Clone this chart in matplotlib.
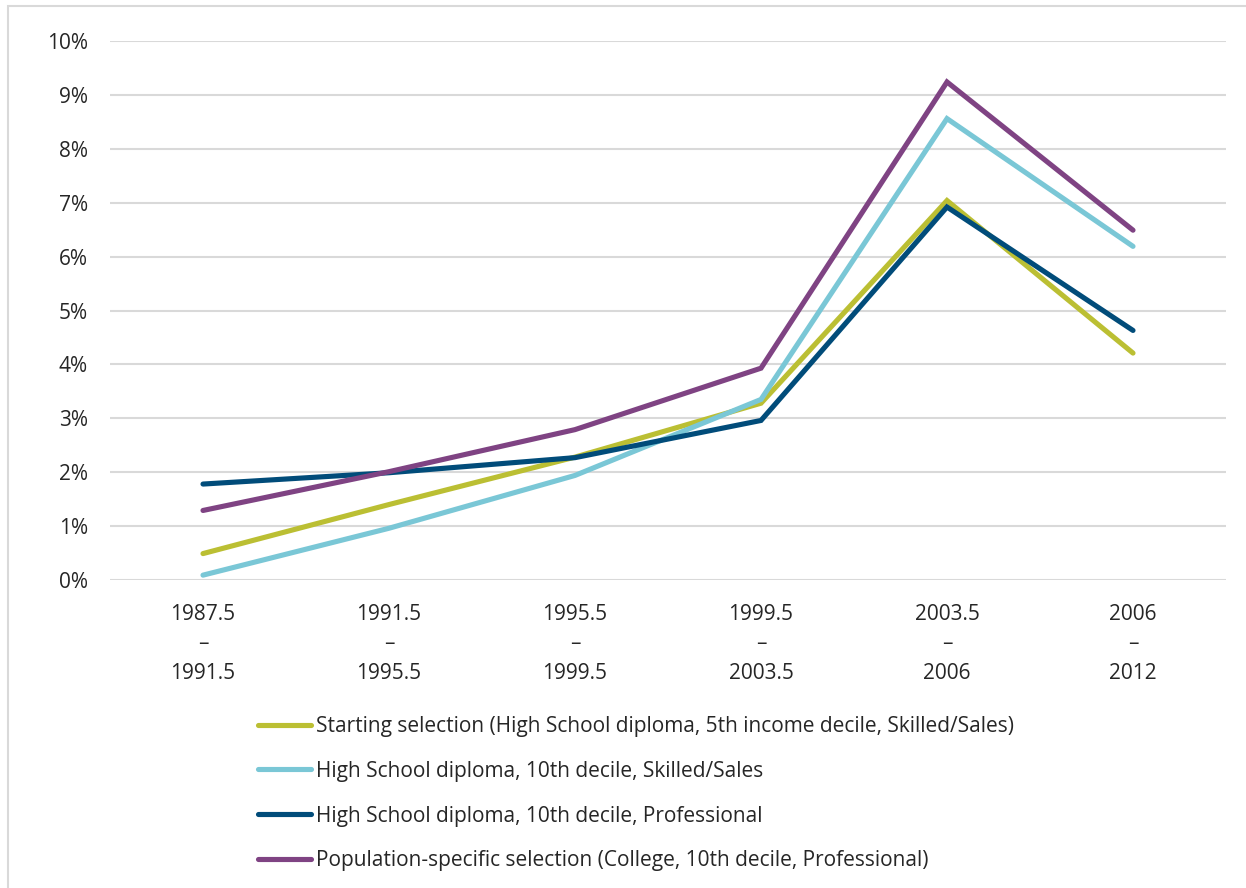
import matplotlib
matplotlib.use("Agg")
import matplotlib.pyplot as plt
from matplotlib.patches import Rectangle
from matplotlib.ticker import PercentFormatter

plt.rcParams['font.family'] = ['Open Sans', 'DejaVu Sans']

periods = ["1987.5\n–\n1991.5", "1991.5\n–\n1995.5", "1995.5\n–\n1999.5",
           "1999.5\n–\n2003.5", "2003.5\n–\n2006", "2006\n–\n2012"]

starting = [0.49, 1.40, 2.28, 3.28, 7.04, 4.21]
hs_skilled = [0.09, 0.96, 1.94, 3.35, 8.56, 6.19]
hs_prof = [1.78, 1.99, 2.27, 2.96, 6.92, 4.63]
pop_specific = [1.29, 2.01, 2.79, 3.93, 9.24, 6.49]

labels = ["Starting selection (High School diploma, 5th income decile, Skilled/Sales)",
          "High School diploma, 10th decile, Skilled/Sales",
          "High School diploma, 10th decile, Professional",
          "Population-specific selection (College, 10th decile, Professional)"]
colors = ["#BBBF33", "#7AC7D6", "#014C7A", "#7F4383"]

W, H = 1246, 888
fig = plt.figure(figsize=(W / 100, H / 100), dpi=100)
ax = fig.add_axes([110 / W, 1 - 580 / H, (1226 - 110) / W, (580 - 41) / H])

x = range(len(periods))
handles = []
for series, lab, col in zip([starting, hs_skilled, hs_prof, pop_specific], labels, colors):
    ln, = ax.plot(x, [v / 100 for v in series], color=col, lw=3.7, label=lab,
                  solid_capstyle='round', solid_joinstyle='miter')
    handles.append(ln)

ax.set_xlim(-0.5, len(periods) - 0.5)
ax.set_ylim(0, 0.10)
ax.set_yticks([i / 100 for i in range(11)])
ax.yaxis.set_major_formatter(PercentFormatter(1.0, decimals=0))
ax.set_xticks(list(x))
ax.set_xticklabels(periods, linespacing=1.55)
ax.tick_params(axis='both', length=0, labelsize=15, colors='#262626')
ax.tick_params(axis='y', pad=16)
ax.tick_params(axis='x', pad=17)
ax.grid(axis='y', color='#D9D9D9', lw=1.5)
ax.set_axisbelow(True)
for s in ax.spines.values():
    s.set_visible(False)

fig.legend(handles=handles, loc='upper left', bbox_to_anchor=(258 / W, 1 - 716 / H),
           frameon=False, fontsize=15, labelcolor='#262626', handlelength=2.55,
           handletextpad=0.25, labelspacing=1.14, borderpad=0, borderaxespad=0)

# outer frame around the chart area
fig.add_artist(Rectangle((8 / W, -0.05), 1.1, 1 - 6 / H + 0.05, transform=fig.transFigure,
                         fill=False, edgecolor='#D9D9D9', lw=1.5))

fig.savefig("out.png", dpi=100, facecolor='white')
